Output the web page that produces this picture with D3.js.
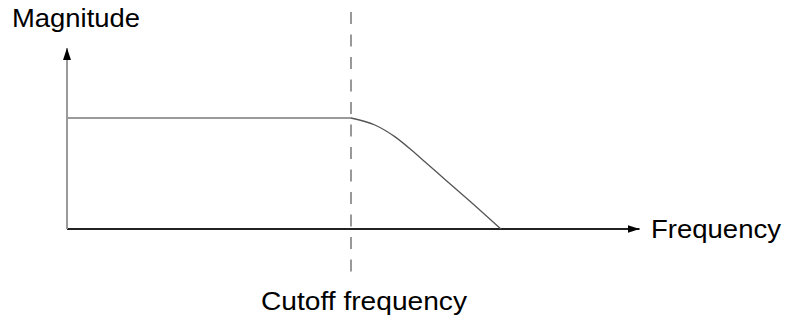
<!DOCTYPE html>
<html>
<head>
<meta charset="utf-8">
<script src="https://cdn.jsdelivr.net/npm/d3@7"></script>
<style>
  body { margin: 0; background: #fff; }
  text { font-family: "Liberation Sans", Arial, sans-serif; fill: #000; }
</style>
</head>
<body>
<div id="wrapper"></div>
<script>
// response curve (frequency, magnitude)
const frequency = [0, 5, 5.42, 5.77, 6.13, 6.30, 6.68, 7.15, 7.64];
const magnitude = [1, 1, 0.937, 0.832, 0.682, 0.606, 0.435, 0.225, 0];
const cutoff = 5;
const labels = { y: "Magnitude", x: "Frequency", cutoff: "Cutoff frequency" };

const width = 787, height = 321;

const svg = d3.select("#wrapper")
  .append("svg")
  .attr("width", width)
  .attr("height", height);

const xScale = d3.scaleLinear().domain([0, 10]).range([67, 635]);
const yScale = d3.scaleLinear().domain([0, 1]).range([229, 118]);

const xMax = 10.08, yMax = 1.63;

// arrow heads
const defs = svg.append("defs");
defs.append("marker")
  .attr("id", "arrow")
  .attr("viewBox", "0 0 12 8")
  .attr("refX", 12).attr("refY", 4)
  .attr("markerWidth", 12).attr("markerHeight", 8)
  .attr("markerUnits", "userSpaceOnUse")
  .attr("orient", "auto")
  .append("path")
  .attr("d", "M0,0L12,4L0,8Z")
  .attr("fill", "#000");

// axes
svg.append("line")
  .attr("x1", xScale(0)).attr("x2", xScale(xMax))
  .attr("y1", yScale(0)).attr("y2", yScale(0))
  .attr("stroke", "#222").attr("stroke-width", 2)
  .attr("marker-end", "url(#arrow)");

svg.append("line")
  .attr("x1", xScale(0)).attr("x2", xScale(0))
  .attr("y1", yScale(0)).attr("y2", yScale(yMax))
  .attr("stroke", "#9a9a9a").attr("stroke-width", 2)
  .attr("marker-end", "url(#arrow)");

// cutoff marker
svg.append("line")
  .attr("x1", xScale(cutoff)).attr("x2", xScale(cutoff))
  .attr("y1", 12).attr("y2", 272)
  .attr("stroke", "#555").attr("stroke-width", 1.2)
  .attr("stroke-dasharray", "12,10.5");

// response
const pts = frequency.map((f, i) => ({ f: f, m: magnitude[i] }));
const line = d3.line()
  .x(d => xScale(d.f))
  .y(d => yScale(d.m))
  .curve(d3.curveMonotoneX);

svg.append("path")
  .datum(pts.filter(d => d.f <= cutoff))
  .attr("d", line)
  .attr("fill", "none")
  .attr("stroke", "#9a9a9a")
  .attr("stroke-width", 2);

svg.append("path")
  .datum(pts.filter(d => d.f >= cutoff))
  .attr("d", line)
  .attr("fill", "none")
  .attr("stroke", "#555")
  .attr("stroke-width", 1.3);

// labels
svg.append("text")
  .attr("x", 12).attr("y", 27)
  .attr("font-size", 25)
  .attr("textLength", 128).attr("lengthAdjust", "spacingAndGlyphs")
  .text(labels.y);

svg.append("text")
  .attr("x", 651).attr("y", 238)
  .attr("font-size", 25)
  .attr("textLength", 130).attr("lengthAdjust", "spacingAndGlyphs")
  .text(labels.x);

svg.append("text")
  .attr("x", 261).attr("y", 310)
  .attr("font-size", 25)
  .attr("textLength", 206).attr("lengthAdjust", "spacingAndGlyphs")
  .text(labels.cutoff);
</script>
</body>
</html>
